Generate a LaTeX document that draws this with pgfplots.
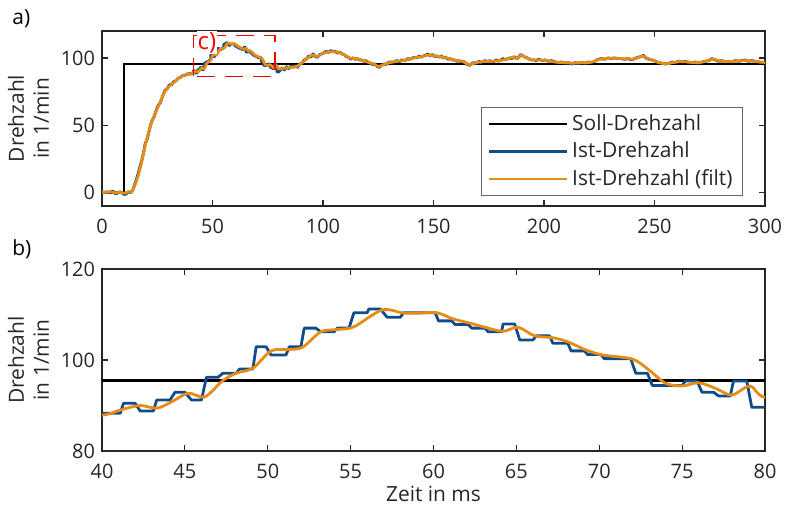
\documentclass[border=0pt]{standalone}
\usepackage{fontspec}
\setmainfont{Open Sans}
\usepackage{pgfplots}
\pgfplotsset{compat=1.18}
\usepackage{pgfplotstable}

\definecolor{istblue}{RGB}{16,76,140}
\definecolor{filtorange}{RGB}{230,140,20}
\definecolor{axgray}{RGB}{38,38,38}

\pgfplotstableread{
t v
0 0
10 0
10 95.5
300 95.5
}\soll

\pgfplotstableread{
t v
0 0
1 0
2 0.5
3 0
4 0.5
5 1
6 -1
7 -0.5
8 0.5
9 0
10 -1.5
11 -1
12 0.5
13 0
14 2
15 7
16 12
17 18
18 24
19 31
19.5 36
20.5 40
21.5 47
22.5 53
23.5 56
24.5 61
25.5 65
26.5 67
27.5 72
28.5 76
29.5 77
30.5 80
31.5 80
32.5 82.5
33.5 83
34.5 85
35.5 85.5
36.5 87
37.5 87
38.5 88
39.5 88.3
40.1 88.3
41.1 88.3
41.3 90.5
42.0 90.5
42.3 88.8
43.1 88.8
43.3 91.2
44.1 91.2
44.4 92.9
45.0 92.9
45.4 91.2
46.0 91.2
46.3 96.2
47.0 96.2
47.3 97.1
48.1 97.1
48.3 98.0
49.1 98.0
49.3 102.9
49.9 102.9
50.2 101.1
51.1 101.1
51.3 102.9
52.0 102.9
52.2 107.0
52.9 107.0
53.2 106.2
54.0 106.2
54.2 107.0
54.9 107.0
55.2 110.4
56.0 110.4
56.1 111.2
56.8 111.2
57.2 109.4
58.0 109.4
58.2 110.4
60.1 110.4
60.3 108.6
61.1 108.6
61.3 107.8
62.1 107.8
62.3 107.0
63.1 107.0
63.3 106.2
64.1 106.2
64.2 107.9
64.9 107.9
65.2 104.4
66.0 104.4
66.2 105.3
67.0 105.3
67.2 103.7
68.1 103.7
68.3 102.0
69.1 102.0
69.3 101.2
70.1 101.2
70.3 100.3
71.9 100.3
72.2 97.1
72.9 97.1
73.2 94.4
75.0 94.4
75.2 95.4
75.9 95.4
76.2 92.9
76.9 92.9
77.2 92.1
77.9 92.1
78.1 95.4
78.9 95.4
79.2 89.6
80.0 89.6
80.5 90.5
81.5 92.5
82.5 91
83.5 93.5
84.5 92
85.5 94
86.5 93
87.5 94.5
88.5 93
89.5 95.5
90.5 96
91.5 98.5
92.5 99
93.5 101.5
94.5 100.5
95.5 103
96.5 101
97.5 100.5
98.5 102.5
99.5 103
100.5 104
101.5 105
102.5 104
103.5 105.5
104.5 104.5
105.5 105
106.5 103.5
107.5 104.5
108.5 103
109.5 102.5
110.5 101
111.5 100.5
112.5 99
113.5 100
114.5 99
115.5 99.5
116.5 98.5
117.5 98.5
118.5 97.5
119.5 98
120.5 96.5
121.5 96
122.5 95
123.5 95.5
124.5 93.5
125.5 93
126.5 94.5
127.5 95.5
128.5 95
129.5 96.5
130.5 97
131.5 96
132.5 97.5
133.5 98
134.5 97
135.5 98.5
136.5 98
137.5 98.5
138.5 99.5
139.5 99
140.5 100
141.5 100.5
142.5 100
143.5 101.5
144.5 100.5
145.5 101.5
146.5 102
147.5 103
148.5 101.5
149.5 102.5
150.5 101
151.5 101.5
152.5 100.5
153.5 101.5
154.5 100
155.5 100.5
156.5 99
157.5 99.5
158.5 98.5
159.5 98.5
160.5 97.5
161.5 98
162.5 97
163.5 97.5
164.5 96
165.5 95
166.5 94.5
167.5 96
168.5 96.5
169.5 96
170.5 97.5
171.5 96.5
172.5 97.5
173.5 98
174.5 97
175.5 98
176.5 97
177.5 97.5
178.5 98.5
179.5 97.5
180.5 98.5
181.5 99.5
182.5 98.5
183.5 99.5
184.5 100
185.5 99.5
186.5 101
187.5 99.5
188.5 100.5
189.5 102.5
190.5 101.5
191.5 100.5
192.5 100
193.5 99
194.5 98.5
195.5 98.5
196.5 98
197.5 99
198.5 98.5
199.5 98
200.5 98.5
202 97.5
203.5 98
205 97
206.5 96.5
208 97
209.5 96
211 96.5
212.5 95.5
214 96.5
215.5 96
217 96.5
218.5 96
220 97
221.5 96.5
223 97.5
224.5 99
226 99.5
227.5 99
229 100
230.5 99.5
232 100
233.5 99.5
235 99.5
236.5 99
238 99.5
239.5 98.5
241 99.5
242.5 100.5
244 101
245 102
246 100
247.5 99
249 98.5
250.5 97.5
252 96.5
253.5 96
255 95.5
256.5 96
258 97
259.5 96.5
261 97.5
262.5 97
264 97.5
265.5 96.5
267 96.5
268.5 97
270 96
271.5 97
273 97.5
274.5 98
276 99.5
277.5 98.5
279 97.5
280.5 98
282 97
283.5 97.5
285 97
286.5 98
288 97.5
289.5 98
291 98.5
292.5 97.5
294 98
295.5 97.5
297 97
298.5 96.5
300 97
}\ist

\pgfplotstableread{
t v
0 0.3
2 0.2
4 0.5
6 -0.3
8 0.3
10 -0.5
12 0.5
13.5 0.8
15 6
16.4 12.7
18 23
19.5 34.8
21 44
22.4 52
24 58.5
25.5 64
27 70
28.5 75.2
30.5 79
32.3 81.4
34 84
36 86.3
38 87.5
40.1 87.9
41.1 89.0
42.3 90.0
43.3 89.4
44.2 90.8
45.2 92.7
46.2 91.9
47.3 95.5
48.1 97.1
49.1 98.2
50.2 102.0
51.2 102.3
52.1 102.8
53.2 106.2
54.2 106.7
55.2 107.3
56.9 111.0
58.2 110.3
59.2 110.3
60.2 110.4
61.2 109.0
62.2 108.1
63.2 107.1
64.2 106.3
65.1 107.2
66.1 105.3
67.2 104.9
68.1 104.0
69.2 102.2
70.2 101.1
72.0 100.2
73.0 97.8
74.0 94.9
75.0 94.3
76.0 95.0
77.0 93.8
78.0 92.3
79.1 94.3
80 91.8
82.8 92.4
85 93
88.1 93.6
91 97
94.9 102.2
97.2 101
99.5 103
102.4 104.6
105 104.5
107.7 103.9
110 102
112.2 99.8
115 99.5
118.2 98.0
121 96.5
123 95.5
125 93.6
127.5 95
130.3 96.6
133 97.5
136.3 98
139 99
142.4 100.5
145 101
147.6 102.2
150 101.5
152 101.2
154.4 100.5
157 99.5
160.4 98
163 97.5
166.5 94.9
169 96.5
172.5 97.3
176 97.5
180 98
183 99
186 100.5
188 99.5
189.9 102.2
192 100
195.1 98.5
198 98.5
201.2 98
204 97.2
207.2 96.6
210 96.5
213.2 96.1
217 96.5
220 96.5
222.3 97.3
225.3 99
228 99.5
231.4 99.8
235 99.5
238 99.3
240.4 99
243 100.5
244.9 101.5
247 99.5
249.5 98
252 96.5
255.5 95.6
258 96.5
261.5 97.3
265 97
268 96.5
270.6 96.6
273 97.5
276.6 99
280 97.5
284.2 97.3
288 97.8
291.7 98
295 97.5
300 96.6
}\filt

\pgfplotsset{
  myaxis/.style={
    scale only axis,
    width=331.5bp,
    axis line style={axgray, line width=0.6bp},
    every tick/.style={axgray, line width=0.6bp},
    major tick length=3bp,
    tick align=inside,
    xtick pos=both, ytick pos=both,
    /pgf/number format/assume math mode=true,
    ticklabel style={font=\fontsize{10}{12}\selectfont, text=axgray},
    xticklabel style={yshift=-3bp},
    label style={font=\fontsize{10.5}{12.5}\selectfont, text=axgray},
    ylabel={Drehzahl\\in 1/min},
    ylabel style={align=center, at={(axis description cs:-0.111,0.5)}, anchor=center},
    clip=true,
  },
  sollstyle/.style={black, line width=1.3bp},
  iststyle/.style={istblue, line width=1.4bp, line join=round},
  filtstyle/.style={filtorange, line width=1.4bp, line join=round},
}

\begin{document}
\begin{tikzpicture}
\useasboundingbox (0,0) rectangle (392.5bp,254.5bp);

\begin{axis}[myaxis,
  at={(51bp,151.5bp)}, anchor=south west,
  height=87.5bp,
  xmin=0, xmax=300, ymin=-10, ymax=120,
  xtick={0,50,100,150,200,250,300},
  ytick={0,50,100},
  legend style={at={(axis description cs:0.9668,0.0571)}, anchor=south east,
    draw=axgray!70, line width=0.5bp, font=\fontsize{10.5}{12.5}\selectfont,
    text=axgray, row sep=0.3bp, inner xsep=3bp, inner ysep=1.5bp},
  legend cell align=left,
  legend image code/.code={\draw[#1, line width=1.2bp] (0bp,0bp) -- (39bp,0bp);},
]
\addplot[sollstyle] table[x=t,y=v] {\soll};
\addlegendentry{Soll-Drehzahl}
\addplot[iststyle] table[x=t,y=v] {\ist};
\addlegendentry{Ist-Drehzahl}
\addplot[filtstyle, smooth, tension=0.4] table[x=t,y=v] {\filt};
\addlegendentry{Ist-Drehzahl (filt)}
\draw[red, line width=0.6bp, dash pattern=on 9bp off 5bp] (axis cs:41.3,86.3) rectangle (axis cs:78.3,116.9);
\node[red, fill=white, inner sep=0.6bp, font=\fontsize{12}{14}\selectfont] at (axis cs:47.5,111.5) {c)};
\end{axis}

\begin{axis}[myaxis,
  at={(51bp,29bp)}, anchor=south west,
  height=91bp,
  xmin=40, xmax=80, ymin=80, ymax=120,
  xtick={40,45,50,55,60,65,70,75,80},
  ytick={80,100,120},
  xlabel={Zeit in ms},
  xlabel style={at={(axis description cs:0.5,-0.235)}, anchor=center},
]
\addplot[sollstyle] table[x=t,y=v] {\soll};
\addplot[iststyle] table[x=t,y=v] {\ist};
\addplot[filtstyle, smooth, tension=0.5] table[x=t,y=v] {\filt};
\end{axis}

\node[anchor=base west, text=black, font=\fontsize{10.5}{12.5}\selectfont, inner sep=0pt] at (6bp,242bp) {a)};
\node[anchor=base west, text=black, font=\fontsize{10.5}{12.5}\selectfont, inner sep=0pt] at (6bp,126.5bp) {b)};
\end{tikzpicture}
\end{document}
